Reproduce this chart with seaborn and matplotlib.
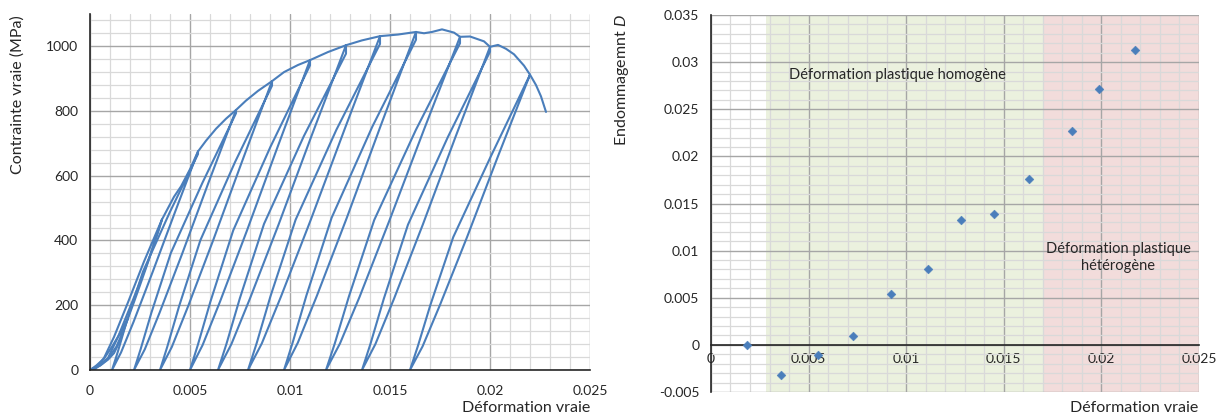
import numpy as np
import pandas as pd
import matplotlib
matplotlib.use('Agg')
import matplotlib.pyplot as plt
from matplotlib.ticker import MultipleLocator, FuncFormatter
import seaborn as sns

# --- Left panel: true stress / true strain (loading-unloading cycles) ---
env_strain = [0, 0.0003, 0.0006, 0.0009, 0.0012, 0.0015, 0.0017, 0.0019, 0.0022, 0.0025,
              0.0028, 0.0031, 0.0034, 0.0036, 0.0039, 0.0042, 0.00455, 0.0050, 0.0054, 0.0058,
              0.0063, 0.0068, 0.0073, 0.0078, 0.0084, 0.0091, 0.0097, 0.0104, 0.0110, 0.0119,
              0.0128, 0.0136, 0.0145, 0.0154, 0.0163, 0.0167, 0.0171, 0.0176, 0.0182, 0.0185,
              0.0190, 0.0197, 0.0200, 0.0204, 0.0208, 0.0212, 0.0217, 0.0220, 0.0223, 0.02255,
              0.0228]
env_stress = [0, 8, 18, 32, 52, 90, 125, 160, 210, 262,
              315, 370, 425, 465, 500, 535, 567, 620, 675, 708,
              745, 776, 803, 832, 862, 892, 920, 942, 957, 982,
              1003, 1018, 1031, 1036, 1044, 1040, 1044, 1052, 1042, 1029,
              1030, 1015, 998, 1004, 992, 975, 940, 912, 880, 845,
              797]

# each cycle: stress levels, left branch strains, right branch strains
cycle_stress = [
    [0, 13, 35, 72, 115, 160],
    [0, 37, 102, 209, 335, 465],
    [0, 54, 149, 304, 486, 675],
    [0, 64, 177, 361, 578, 803],
    [0, 71, 196, 401, 642, 892],
    [0, 77, 211, 431, 689, 957],
    [0, 80, 221, 451, 722, 1003],
    [0, 82, 227, 464, 742, 1031],
    [0, 84, 230, 470, 752, 1044],
    [0, 82, 226, 463, 741, 1029],
    [0, 80, 220, 449, 719, 998],
    [0, 73, 201, 410, 657, 912],
]
cycle_strain_a = [
    [0.0000, 0.0003, 0.0007, 0.0011, 0.00152, 0.0019],
    [0.0002, 0.0007, 0.0012, 0.0019, 0.0027, 0.0036],
    [0.0011, 0.00138, 0.00183, 0.00265, 0.00398, 0.0054],
    [0.0022, 0.00253, 0.00307, 0.00404, 0.00562, 0.0073],
    [0.0035, 0.00386, 0.00445, 0.00552, 0.00725, 0.0091],
    [0.0050, 0.00539, 0.00602, 0.00716, 0.00902, 0.0110],
    [0.0064, 0.00682, 0.00749, 0.0087, 0.01069, 0.0128],
    [0.0079, 0.00833, 0.00902, 0.01028, 0.01232, 0.0145],
    [0.0097, 0.01013, 0.01082, 0.01208, 0.01412, 0.0163],
    [0.0118, 0.01224, 0.01294, 0.01421, 0.01629, 0.0185],
    [0.0136, 0.01402, 0.01469, 0.0159, 0.01789, 0.0200],
    [0.0160, 0.01639, 0.01702, 0.01816, 0.02002, 0.0220],
]
cycle_strain_b = [
    [0.0000, 0.0005, 0.0009, 0.00132, 0.00162, 0.0019],
    [0.0002, 0.0009, 0.0014, 0.0021, 0.0029, 0.0036],
    [0.0011, 0.00155, 0.00218, 0.00314, 0.00424, 0.0054],
    [0.0022, 0.00274, 0.00348, 0.00462, 0.00592, 0.0073],
    [0.0035, 0.00409, 0.0049, 0.00616, 0.00759, 0.0091],
    [0.0050, 0.00563, 0.0065, 0.00785, 0.00938, 0.0110],
    [0.0064, 0.00707, 0.0080, 0.00944, 0.01107, 0.0128],
    [0.0079, 0.00859, 0.00955, 0.01104, 0.01272, 0.0145],
    [0.0097, 0.01039, 0.01135, 0.01284, 0.01452, 0.0163],
    [0.0118, 0.0125, 0.01348, 0.01498, 0.01669, 0.0185],
    [0.0136, 0.01427, 0.0152, 0.01664, 0.01827, 0.0200],
    [0.0160, 0.01663, 0.0175, 0.01885, 0.02038, 0.0220],
]
# stress relaxation notch at the top of each cycle (MPa)
peak_drop = [0, 0, 8, 10, 14, 16, 26, 24, 24, 20, 15, 0]

# --- Right panel: damage vs true strain ---
damage_strain = [0.00185, 0.0036, 0.0055, 0.0073, 0.0092, 0.0111, 0.0128, 0.0145, 0.0163, 0.0185, 0.0199, 0.0217]
damage_D = [0.0000, -0.0032, -0.0011, 0.0009, 0.0054, 0.0081, 0.0133, 0.0139, 0.0176, 0.0227, 0.0272, 0.0313]

homog_zone = (0.0028, 0.017)
hetero_zone = (0.017, 0.025)

BLUE = '#4a7ebb'
GRID_MAJ = '#a6a6a6'
GRID_MIN = '#d9d9d9'

sns.set_style('white')
plt.rcParams['font.family'] = ['Lato', 'DejaVu Sans']
plt.rcParams['mathtext.fontset'] = 'custom'
plt.rcParams['mathtext.it'] = 'Lato:italic'
plt.rcParams['mathtext.rm'] = 'Lato'


def build_curves():
    rows = []
    for x, y in zip(env_strain, env_stress):
        rows.append(('env', x, y))
    for i, (st, a, b) in enumerate(zip(cycle_stress, cycle_strain_a, cycle_strain_b)):
        # relaxation notch, unloading along one branch, reloading along the other
        xs = [a[-1], a[-1]] + a[-2::-1] + b[1:]
        ys = [st[-1], st[-1] - peak_drop[i]] + st[-2::-1] + st[1:]
        for x, y in zip(xs, ys):
            rows.append((f'c{i}', x, y))
    return pd.DataFrame(rows, columns=['seg', 'strain', 'stress'])


def style_grid(ax):
    ax.set_axisbelow(True)
    ax.grid(which='minor', color=GRID_MIN, lw=0.9)
    ax.grid(which='major', color=GRID_MAJ, lw=1.0)


fmt = FuncFormatter(lambda v, p: f'{v:g}' if abs(v) > 1e-12 else '0')

fig = plt.figure(figsize=(12.18, 4.19), dpi=100)

# Left
ax1 = fig.add_axes([0.0739, 0.117, 0.4105, 0.850])
df = build_curves()
sns.lineplot(data=df, x='strain', y='stress', units='seg', estimator=None, sort=False,
             color=BLUE, lw=1.5, ax=ax1, legend=False)
ax1.set_xlim(0, 0.025)
ax1.set_ylim(0, 1100)
ax1.xaxis.set_major_locator(MultipleLocator(0.005))
ax1.xaxis.set_minor_locator(MultipleLocator(0.001))
ax1.yaxis.set_minor_locator(MultipleLocator(40))
ax1.set_yticks([0, 200, 400, 600, 800, 1000])
ax1.xaxis.set_major_formatter(fmt)
style_grid(ax1)
for s in ['top', 'right']:
    ax1.spines[s].set_visible(False)
for s in ['left', 'bottom']:
    ax1.spines[s].set_color('#262626')
    ax1.spines[s].set_linewidth(1.2)
ax1.tick_params(which='major', direction='out', length=5, width=1.2, color='#262626',
                labelsize=10, labelcolor='#262626')
ax1.tick_params(which='minor', direction='out', length=3, width=1.0, color='#262626')
ax1.tick_params(axis='x', pad=6)
ax1.set_xlabel('')
ax1.set_ylabel('')
fig.text(0.432, 0.026, 'Déformation vraie', fontsize=11.5, color='#262626', ha='center', va='center')
fig.text(0.0148, 0.773, 'Contrainte vraie (MPa)', fontsize=11.5, color='#262626',
         rotation=90, ha='center', va='center')

# Right
ax2 = fig.add_axes([0.5837, 0.0644, 0.4007, 0.8998])
ax2.axvspan(*homog_zone, color='#ebf1de', zorder=0, lw=0)
ax2.axvspan(*hetero_zone, color='#f2dcdb', zorder=0, lw=0)
sns.scatterplot(x=damage_strain, y=damage_D, marker='D', s=20, color=BLUE,
                edgecolor=BLUE, ax=ax2, zorder=3)
ax2.set_xlim(0, 0.025)
ax2.set_ylim(-0.005, 0.035)
ax2.xaxis.set_major_locator(MultipleLocator(0.005))
ax2.xaxis.set_minor_locator(MultipleLocator(0.001))
ax2.yaxis.set_major_locator(MultipleLocator(0.005))
ax2.yaxis.set_minor_locator(MultipleLocator(0.001))
ax2.xaxis.set_major_formatter(fmt)
ax2.yaxis.set_major_formatter(fmt)
style_grid(ax2)
ax2.spines['top'].set_visible(False)
ax2.spines['right'].set_visible(False)
ax2.spines['bottom'].set_position(('data', 0))
for s in ['left', 'bottom']:
    ax2.spines[s].set_color('#262626')
    ax2.spines[s].set_linewidth(1.2)
    ax2.spines[s].set_zorder(2.5)
ax2.tick_params(axis='y', which='major', direction='out', length=5, width=1.2, color='#262626',
                labelsize=10, labelcolor='#262626')
ax2.tick_params(axis='y', which='minor', direction='out', length=3, width=1.0, color='#262626')
ax2.tick_params(axis='x', which='major', direction='inout', length=9, width=1.2, color='#262626',
                labelsize=10, labelcolor='#262626', pad=1)
ax2.tick_params(axis='x', which='minor', direction='inout', length=5, width=1.0, color='#262626')
ax2.set_xlabel('')
ax2.set_ylabel('')
ax2.text(0.00953, 0.0286, 'Déformation plastique homogène', fontsize=10.5, color='#262626',
         ha='center', va='center')
ax2.text(0.02085, 0.0093, 'Déformation plastique\nhétérogène', fontsize=10.5, color='#262626',
         ha='center', va='center', linespacing=1.3)
fig.text(0.931, 0.026, 'Déformation vraie', fontsize=11.5, color='#262626', ha='center', va='center')
fig.text(0.5107, 0.809, 'Endommagemnt $D$', fontsize=11.5, color='#262626',
         rotation=90, ha='center', va='center')

fig.savefig('out.png', dpi=100)
